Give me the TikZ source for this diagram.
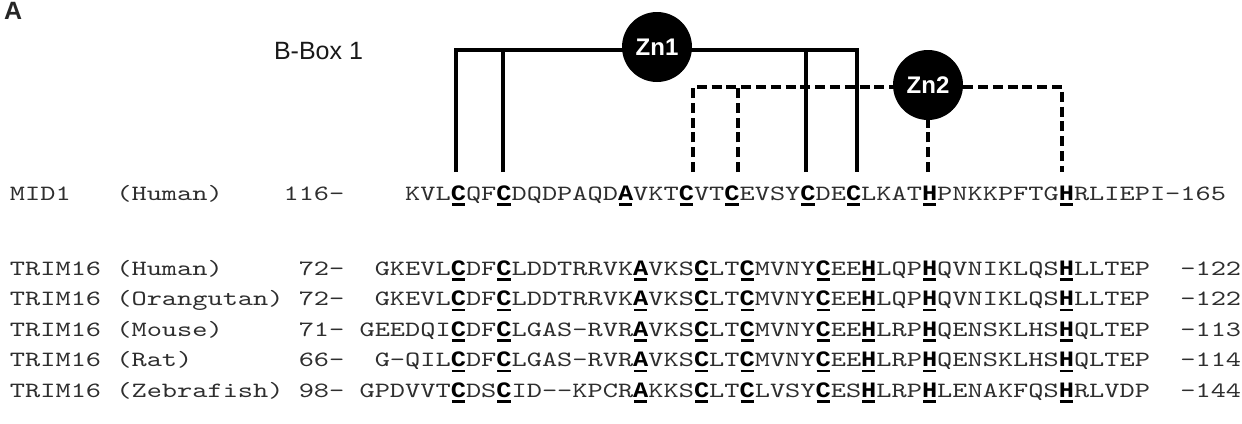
\documentclass[tikz,border=0pt]{standalone}
\usepackage{fontspec}
\setmainfont{Liberation Sans}
\setsansfont{Liberation Sans}
\setmonofont{lmmono10-regular}[Extension=.otf, FakeStretch=1.32809]
\newfontfamily\resfont{Liberation Mono}[FakeStretch=1.1515]
\newcommand\seqsize{\fontsize{10.9pt}{13pt}\selectfont}
\newcommand\bx[1]{\makebox[0pt][l]{\hspace*{0.5pt}\textcolor{black}{\rule[-2.9pt]{6.6pt}{1.2pt}}}\textcolor{black}{\resfont\fontsize{11pt}{13pt}\selectfont\bfseries #1}}
\begin{document}
\begin{tikzpicture}[x=0.5pt,y=-0.5pt,
  seqrow/.style={anchor=base west, inner sep=0pt, outer sep=0pt, font=\ttfamily\seqsize, text=black!82},
  solidbond/.style={line width=1.6pt, line join=miter},
  dashbond/.style={line width=1.7pt, dash pattern=on 5pt off 2.4pt},
  zinc/.style={circle, fill=black, minimum size=35pt, inner sep=0pt, text=white, font=\sffamily\bfseries\fontsize{12pt}{14pt}\selectfont},
  label/.style={anchor=base west, inner sep=0pt, outer sep=0pt}]
\useasboundingbox (0,0) rectangle (1242,423);
\fill[white] (0,0) rectangle (1242,423);

% panel label and domain name
\node[label, font=\sffamily\bfseries\fontsize{12.5pt}{15pt}\selectfont, text=black!85] (panelA) at (4,19) {A};
\node[label, font=\sffamily\fontsize{12.5pt}{15pt}\selectfont, text=black!90] (bbox) at (274,59) {B-Box 1};

% sequence rows
\node[seqrow] (mid1) at (10,200) {MID1\ \ \ (Human)\ \ \ \ 116-\ \ \ \ KVL\bx{C}QF\bx{C}DQDPAQD\bx{A}VKT\bx{C}VT\bx{C}EVSY\bx{C}DE\bx{C}LKAT\bx{H}PNKKPFTG\bx{H}RLIEPI-165};
\node[seqrow] (hum) at (10,275) {TRIM16\ (Human)\ \ \ \ \ 72-\ \ GKEVL\bx{C}DF\bx{C}LDDTRRVK\bx{A}VKS\bx{C}LT\bx{C}MVNY\bx{C}EE\bx{H}LQP\bx{H}QVNIKLQS\bx{H}LLTEP\ \ -122};
\node[seqrow] (ora) at (10,305.5) {TRIM16\ (Orangutan)\ 72-\ \ GKEVL\bx{C}DF\bx{C}LDDTRRVK\bx{A}VKS\bx{C}LT\bx{C}MVNY\bx{C}EE\bx{H}LQP\bx{H}QVNIKLQS\bx{H}LLTEP\ \ -122};
\node[seqrow] (mou) at (10,336) {TRIM16\ (Mouse)\ \ \ \ \ 71-\ GEEDQI\bx{C}DF\bx{C}LGAS-RVR\bx{A}VKS\bx{C}LT\bx{C}MVNY\bx{C}EE\bx{H}LRP\bx{H}QENSKLHS\bx{H}QLTEP\ \ -113};
\node[seqrow] (rat) at (10,366.5) {TRIM16\ (Rat)\ \ \ \ \ \ \ 66-\ \ G-QIL\bx{C}DF\bx{C}LGAS-RVR\bx{A}VKS\bx{C}LT\bx{C}MVNY\bx{C}EE\bx{H}LRP\bx{H}QENSKLHS\bx{H}QLTEP\ \ -114};
\node[seqrow] (zeb) at (10,397) {TRIM16\ (Zebrafish)\ 98-\ GPDVVT\bx{C}DS\bx{C}ID--KPCR\bx{A}KKS\bx{C}LT\bx{C}LVSY\bx{C}ES\bx{H}LRP\bx{H}LENAKFQS\bx{H}RLVDP\ \ -144};

% residue anchor points
\coordinate (r1) at (456,172);
\coordinate (r2) at (503,172);
\coordinate (r3) at (806,172);
\coordinate (r4) at (857,172);
\coordinate (d1) at (693,172);
\coordinate (d2) at (738,172);
\coordinate (d3) at (928,172);
\coordinate (d4) at (1062,172);
% bracket corners
\coordinate (h1) at (456,50);
\coordinate (h2) at (503,50);
\coordinate (h3) at (806,50);
\coordinate (h4) at (857,50);
\coordinate (k1) at (693,87);
\coordinate (k2) at (738,87);
\coordinate (k4) at (1062,87);

% Zn1 coordination (solid)
\draw[solidbond] (r1) -- (h1) -- (h4) -- (r4);
\draw[solidbond] (r2) -- (h2);
\draw[solidbond] (r3) -- (h3);
% Zn2 coordination (dashed)
\draw[dashbond] (d1) -- (k1) -- (k4) -- (d4);
\draw[dashbond] (d2) -- (k2);

% zinc ions
\node[zinc] (Zn1) at (657,47) {Zn1};
\node[zinc] (Zn2) at (928,85) {Zn2};
\draw[dashbond] (d3) -- (Zn2.south);
\end{tikzpicture}
\end{document}
